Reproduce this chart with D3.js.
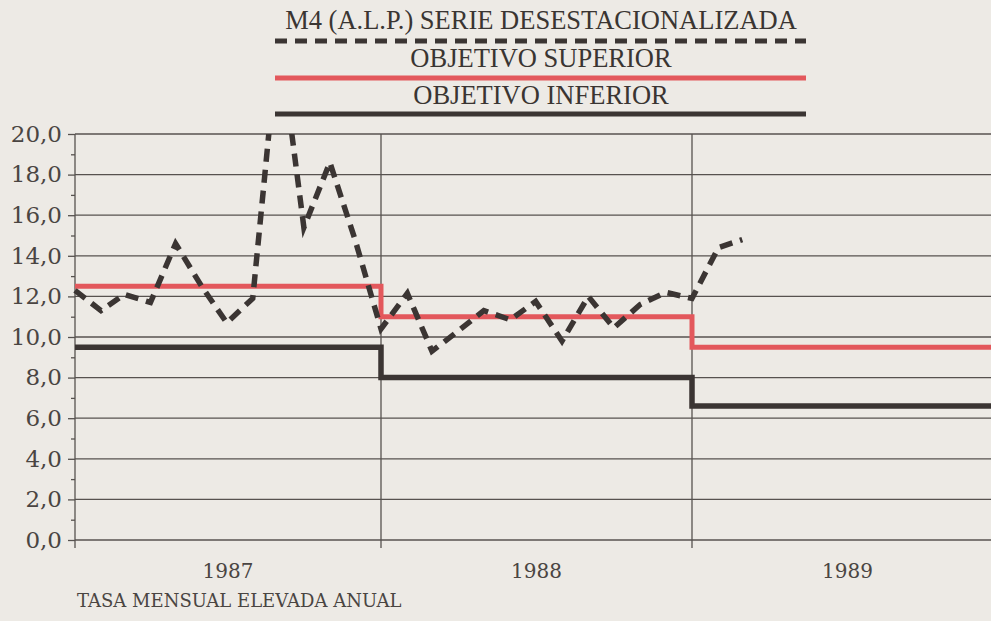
<!DOCTYPE html>
<html>
<head>
<meta charset="utf-8">
<script src="https://cdn.jsdelivr.net/npm/d3@7"></script>
<style>
  html, body { margin: 0; padding: 0; background: #edeae5; }
  svg { display: block; }
</style>
</head>
<body>
<script>
// M4 (ALP) seasonally adjusted, monthly annualised rate
const m4Months = ['1987-01', '1987-02', '1987-03', '1987-04', '1987-05', '1987-06',
    '1987-07', '1987-08', '1987-09', '1987-10', '1987-11', '1987-12',
    '1988-01', '1988-02', '1988-03', '1988-04', '1988-05', '1988-06',
    '1988-07', '1988-08', '1988-09', '1988-10', '1988-11', '1988-12',
    '1989-01', '1989-02', '1989-03']
const m4Values = [12.3, 11.3, 12.1, 11.7, 14.6, 12.5,
    10.7, 11.9, 25.0, 15.4, 18.6, 14.8,
    10.4, 12.15, 9.3, 10.3, 11.3, 10.85,
    11.75, 9.8, 12.0, 10.45, 11.6, 12.2,
    11.9, 14.4, 14.8]

// target bands, one value per year
const targetYears = ['1987', '1988', '1989']
const upperTarget = [12.5, 11.0, 9.5]
const lowerTarget = [9.5, 8.0, 6.6]

const yTicks = [0, 2, 4, 6, 8, 10, 12, 14, 16, 18, 20]
const yearLabels = ['1987', '1988', '1989']

const legendItems = ['M4 (A.L.P.) SERIE DESESTACIONALIZADA', 'OBJETIVO SUPERIOR', 'OBJETIVO INFERIOR']
const footnote = 'TASA MENSUAL ELEVADA ANUAL'

const W = 991, H = 621
const ink = '#3b3533', red = '#e3585c', grid = '#57524f'

const parseMonth = d3.timeParse('%Y-%m')
const parseYear = d3.timeParse('%Y')
const es = d3.formatLocale({ decimal: ',', thousands: '.', grouping: [3], currency: ['', ' €'] })

const svg = d3.select('body').append('svg')
    .attr('width', W)
    .attr('height', H)

const yearStarts = ['1987', '1988', '1989', '1990'].map(parseYear)
const x = d3.scaleTime()
    .domain(yearStarts)
    .range([75, 381, 692, 1003])

const y = d3.scaleLinear()
    .domain([0, 20])
    .range([540, 134])

svg.append('clipPath').attr('id', 'plot')
    .append('rect')
    .attr('x', 70).attr('y', y(20)).attr('width', W).attr('height', y(0) - y(20) + 10)

// horizontal grid
svg.append('g')
    .selectAll('line')
    .data(yTicks)
    .join('line')
    .attr('x1', 75).attr('x2', W)
    .attr('y1', d => y(d)).attr('y2', d => y(d))
    .attr('stroke', grid)
    .attr('stroke-width', 1.3)

// year boundaries
svg.append('g')
    .selectAll('line')
    .data(yearStarts.slice(0, 3))
    .join('line')
    .attr('x1', d => x(d)).attr('x2', d => x(d))
    .attr('y1', y(20)).attr('y2', y(0) + 8)
    .attr('stroke', grid)
    .attr('stroke-width', 1.3)

// y axis: major ticks with labels, minor ticks between
const yAxis = svg.append('g')
    .attr('transform', 'translate(75,0)')
    .call(d3.axisLeft(y).tickValues(yTicks).tickSize(7).tickPadding(6).tickFormat(es.format('.1f')))
yAxis.select('.domain').remove()
yAxis.selectAll('line').attr('stroke', grid).attr('stroke-width', 1.3)
yAxis.selectAll('text')
    .attr('font-family', 'DejaVu Serif')
    .attr('font-size', 23)
    .attr('fill', '#4a4542')

const yMinor = svg.append('g')
    .attr('transform', 'translate(75,0)')
    .call(d3.axisLeft(y).tickValues(d3.range(1, 20, 2)).tickSize(4).tickFormat(''))
yMinor.select('.domain').remove()
yMinor.selectAll('line').attr('stroke', grid).attr('stroke-width', 1.3)

// year labels centred in each year
svg.append('g')
    .selectAll('text')
    .data(yearLabels)
    .join('text')
    .attr('x', d => (x(parseYear(d)) + x(d3.timeYear.offset(parseYear(d), 1))) / 2)
    .attr('y', 578)
    .attr('text-anchor', 'middle')
    .attr('font-family', 'DejaVu Serif')
    .attr('font-size', 20)
    .attr('fill', '#4a4542')
    .text(d => d)

// target step lines
const stepLine = d3.line()
    .x(d => x(d[0]))
    .y(d => y(d[1]))
    .curve(d3.curveStepAfter)

const stepPoints = vals => {
    const pts = targetYears.map((t, i) => [parseYear(t), vals[i]])
    pts.push([d3.timeYear.offset(parseYear(targetYears[targetYears.length - 1]), 1), vals[vals.length - 1]])
    return pts
}

svg.append('path')
    .attr('d', stepLine(stepPoints(lowerTarget)))
    .attr('fill', 'none')
    .attr('stroke', ink)
    .attr('stroke-width', 5.5)

svg.append('path')
    .attr('d', stepLine(stepPoints(upperTarget)))
    .attr('fill', 'none')
    .attr('stroke', red)
    .attr('stroke-width', 5)

// M4 series
const m4Line = d3.line()
    .x((d, i) => x(parseMonth(m4Months[i])))
    .y(d => y(d))

svg.append('path')
    .attr('clip-path', 'url(#plot)')
    .attr('d', m4Line(m4Values))
    .attr('fill', 'none')
    .attr('stroke', ink)
    .attr('stroke-width', 5.5)
    .attr('stroke-dasharray', '13,8')

// legend block
const legend = svg.append('g')
const legendRows = [
    { label: legendItems[0], ty: 29, ly: 41, color: ink, dash: '12,8', w: 5 },
    { label: legendItems[1], ty: 67, ly: 78, color: red, dash: null, w: 5 },
    { label: legendItems[2], ty: 104, ly: 114, color: ink, dash: null, w: 5 }
]
legendRows.forEach(r => {
    legend.append('text')
        .attr('x', 541).attr('y', r.ty)
        .attr('text-anchor', 'middle')
        .attr('font-family', 'Liberation Serif')
        .attr('font-size', 26.5)
        .attr('fill', '#3a3532')
        .text(r.label)
    legend.append('line')
        .attr('x1', 275).attr('x2', 806)
        .attr('y1', r.ly).attr('y2', r.ly)
        .attr('stroke', r.color)
        .attr('stroke-width', r.w)
        .attr('stroke-dasharray', r.dash)
})

svg.append('text')
    .attr('x', 77).attr('y', 607)
    .attr('font-family', 'DejaVu Serif')
    .attr('font-size', 18)
    .attr('fill', '#4a4542')
    .text(footnote)
</script>
</body>
</html>
